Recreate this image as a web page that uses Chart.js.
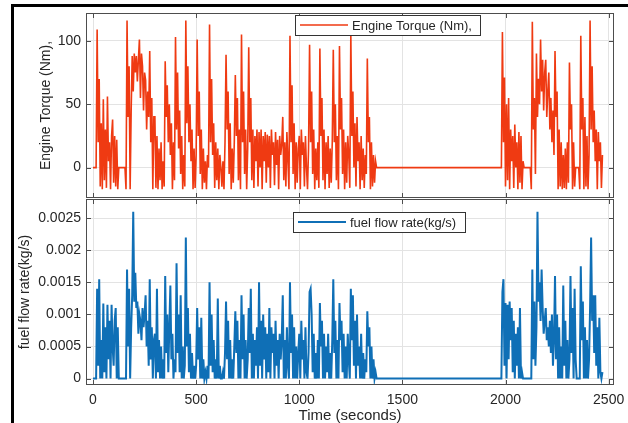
<!DOCTYPE html>
<html>
<head>
<meta charset="utf-8">
<script src="https://cdn.jsdelivr.net/npm/chart.js@4.4.1/dist/chart.umd.min.js"></script>
<style>
  html, body { margin: 0; padding: 0; background: #fff; overflow: hidden; }
  #wrap { position: relative; width: 628px; height: 423px; overflow: hidden; }
  #frame { position: absolute; left: 11px; top: 4px; width: 700px; height: 500px;
           border-left: 3px solid #000; border-top: 3px solid #000; }
  canvas { position: absolute; left: 0; }
  #torqueCanvas { top: 0; }
  #fuelCanvas { top: 190px; }
</style>
</head>
<body>
<div id="wrap">
  <div id="frame"></div>
  <canvas id="torqueCanvas" width="628" height="200"></canvas>
  <canvas id="fuelCanvas" width="628" height="242"></canvas>
</div>
<script>
// logged every 5 s while driving, engine idle (zero) in between
const sampleStep = 5;
const drive1Start = 0;
const drive2Start = 1985;
const idleFrom = 1380;
const idleTo = 1980;
const idleTorque = 0;
const idleFuel = 0;

// Engine torque (Nm), first drive, t = 0..1375 s
const torque1 = [
  0, 0, 0, 0, 109, 20, 70, -15, 35, -17,
  54, -10, 30, -16, 56, 5, 20, -17, 25, 38,
  -12, 25, -15, 22, -17, 0, 0, 0, 0, 0,
  0, 0, -17, 116, 40, 80, -17, 45, 88, 60,
  90, 75, 88, 68, 85, 101, 55, 90, 80, 45,
  75, 69, 30, 60, 40, 92, 20, 55, -17, 40,
  40, -16, 25, -17, 15, -10, 20, -17, 5, -15,
  84, 40, 65, 20, 50, 10, 35, -17, 20, -10,
  103, 30, 75, 15, 45, -5, 25, -17, 10, -15,
  116, 35, 80, 20, 50, 5, 30, -17, 15, -16,
  10, 101, 25, 60, -5, 30, -17, 15, -12, 5,
  -17, 10, 0, 113, 20, 70, 10, 35, -16, 20,
  -10, 15, -17, 10, 0, -15, 5, -17, 20, 89,
  30, 60, -5, 35, -17, 15, -12, 20, 73, 25,
  55, -10, 30, -17, 105, 20, 60, -5, 30, -17,
  15, 95, 20, 55, -10, 30, -16, 25, 5, 30,
  -15, 28, 0, 30, -17, 25, 5, 28, -12, 26,
  0, 25, -16, 30, 10, 20, -14, 28, 2, 22,
  -17, 25, 10, 18, 40, -10, 20, -15, 28, 5,
  -17, 104, 20, 65, -5, 35, -17, 20, -12, 15,
  25, -17, 30, 10, 20, -15, 25, 0, -17, 15,
  97, 20, 60, -5, 30, -17, 15, -10, 20, -16,
  94, 25, 55, -10, 30, -17, 20, -5, 25, -16,
  15, -12, 20, 93, 20, 50, -10, 25, -17, 96,
  30, 55, -5, 30, -17, 20, -12, 25, 10, -16,
  106, 25, 60, 0, 35, -15, 40, 5, 20, -17,
  25, -10, 15, -16, 10, -5, 86, 20, 40, -17,
  20, -15, 10, -12, 5, 0
];

// Engine torque (Nm), second drive, t = 1985..2470 s
const torque2 = [
  107, 20, 71, -15, 50, -10, 55, -17, 30, 5,
  25, -16, 34, 0, 20, -17, 28, -12, 25, -17,
  5, 0, 0, 0, 0, 0, 0, 0, -17, 115,
  30, 55, -5, 90, 40, 70, 50, 101, 60, 85,
  45, 75, 85, 40, 60, 75, 30, 55, 20, 45,
  10, 92, 40, 60, -17, 30, -15, 20, -17, 10,
  -16, 15, -17, 20, -12, 83, 30, 50, -17, 20,
  -15, 0, 0, 0, 0, -17, 104, 30, 55, -17,
  40, -15, 25, -17, 10, 116, 30, 80, 20, 45,
  5, 30, -17, 28, 5, 20, -16, 10
];

// Fuel flow rate (kg/s), first drive
const fuel1 = [
  0, 0, 0, 0, 0.0014, 0.0002, 0.00155, 0, 0.0006, 0,
  0.00117, 0.0001, 0.0008, 0, 0.00115, 0.0003, 0.0009, 0, 0.00115, 0.0005,
  0.0002, 0.0009, 0.0011, 0, 0.0008, 0, 0, 0, 0, 0,
  0, 0, 0, 0.0017, 0.0005, 0.0014, 0, 0.0008, 0.0013, 0.0026,
  0.0012, 0.00165, 0.0011, 0.0012, 0.0007, 0.001, 0.0009, 0.0006, 0.0011, 0.0008,
  0.001, 0.0013, 0.0005, 0.0009, 0.0002, 0.00155, 0.0003, 0.0008, 0, 0.0006,
  0.0007, 0, 0.0014, 0.0001, 0.0006, 0, 0.0005, 0, 0.0003, 0,
  0.0016, 0.0004, 0.001, 0.0001, 0.0008, 0.00145, 0.0003, 0.0007, 0, 0.0003,
  0.0001, 0.0018, 0.0004, 0.001, 0.0001, 0.0013, 0, 0.0005, 0, 0.0002,
  0.0022, 0.0005, 0.0011, 0.0001, 0.0007, 0, 0.0004, 0, 0.0002, 0,
  0.0002, 0.0011, 0.0003, 0.0008, 0, 0.00095, 0, 0.0003, 0, 0.0001,
  0, 0.0002, 0, 0.0015, 0.0002, 0.001, 0.0001, 0.0006, 0, 0.0003,
  0, 0.00125, 0, 0.0002, 0, 0, 0.0001, 0, 0.0004, 0.0012,
  0.0003, 0.0009, 0, 0.0006, 0, 0.0003, 0, 0.0005, 0.00105, 0.0004,
  0.0009, 0, 0.0006, 0, 0.0013, 0.0003, 0.001, 0, 0.0006, 0,
  0.0003, 0.0011, 0.0004, 0.0014, 0, 0.0007, 0, 0.0006, 0.0002, 0.0008,
  0, 0.0015, 0.0002, 0.0009, 0, 0.001, 0.0003, 0.0008, 0, 0.0007,
  0.0001, 0.0011, 0, 0.0008, 0.0004, 0.0007, 0, 0.0009, 0.0002, 0.0006,
  0, 0.0007, 0.0003, 0.0006, 0.0013, 0, 0.0006, 0, 0.0008, 0.0002,
  0, 0.0015, 0.0004, 0.001, 0, 0.0008, 0, 0.0005, 0, 0.0004,
  0.0007, 0, 0.0009, 0.0003, 0.0006, 0, 0.0008, 0.0001, 0, 0.0004,
  0.00135, 0.0014, 0.001, 0.0001, 0.0007, 0, 0.0004, 0, 0.0006, 0,
  0.00118, 0.0005, 0.0009, 0, 0.0007, 0, 0.0005, 0.0001, 0.0007, 0,
  0.0004, 0, 0.0006, 0.00155, 0.0004, 0.0009, 0, 0.0006, 0, 0.00118,
  0.0006, 0.0009, 0.0001, 0.0007, 0, 0.0005, 0, 0.0007, 0.0003, 0,
  0.0014, 0.0006, 0.0013, 0.0002, 0.0009, 0, 0.001, 0.0002, 0.0005, 0,
  0.0007, 0, 0.0004, 0, 0.0003, 0.0001, 0.00105, 0.0005, 0.0008, 0,
  0.0005, 0, 0.0003, 0, 0.0001, 0
];

// Fuel flow rate (kg/s), second drive
const fuel2 = [
  0.00135, 0.00155, 0.0002, 0.00118, 0, 0.00115, 0.0003, 0.0012, 0.0006, 0.0011,
  0.0001, 0.0009, 0, 0.0007, 0.0002, 0.0008, 0, 0.0011, 0, 0.0001,
  0, 0, 0, 0, 0, 0, 0, 0, 0, 0.0017,
  0.0003, 0.0012, 0.0002, 0.0008, 0.0026, 0.0012, 0.0015, 0.0009, 0.0017, 0.0011,
  0.0007, 0.0009, 0.0011, 0.0006, 0.0008, 0.0005, 0.0009, 0.0004, 0.001, 0.0002,
  0.0006, 0.0016, 0.0003, 0.001, 0, 0.0008, 0, 0.0005, 0, 0.00145,
  0.0002, 0.0009, 0, 0.0006, 0, 0.0003, 0.0016, 0.0004, 0.0011, 0,
  0.0014, 0.0003, 0, 0, 0, 0, 0.00175, 0.0006, 0.0012, 0,
  0.0008, 0, 0.0006, 0, 0.0003, 0.0011, 0.0022, 0.0009, 0.0013, 0.0004,
  0.0013, 0.0002, 0.0008, 0, 0.00095, 0.0001, 0, 0.0001
];

const timeTicks = [0, 500, 1000, 1500, 2000, 2500];
const torqueTicks = [0, 50, 100];
const fuelTicks = [0, 0.0005, 0.001, 0.0015, 0.002, 0.0025];

function toPoints(start, vals) {
  return vals.map((v, i) => ({ x: start + i * sampleStep, y: v }));
}

function driveCycle(first, second, idleValue) {
  return [
    ...toPoints(drive1Start, first),
    { x: idleFrom, y: idleValue },
    { x: idleTo, y: idleValue },
    ...toPoints(drive2Start, second)
  ];
}

const FONT = '"Liberation Sans", Arial, Helvetica, sans-serif';
const TEXT = '#262626';
const GRID = '#e3e3e3';

// box round the axes plus short inward ticks on all four sides
const axesFrame = {
  id: 'axesFrame',
  afterDatasetsDraw(chart) {
    const { ctx, chartArea: a, scales } = chart;
    ctx.save();
    ctx.strokeStyle = '#4d4d4d';
    ctx.lineWidth = 1;
    ctx.beginPath();
    scales.x.ticks.forEach(t => {
      const px = Math.round(scales.x.getPixelForValue(t.value)) + 0.5;
      ctx.moveTo(px, a.top); ctx.lineTo(px, a.top + 5);
      ctx.moveTo(px, a.bottom); ctx.lineTo(px, a.bottom - 5);
    });
    scales.y.ticks.forEach(t => {
      const py = Math.round(scales.y.getPixelForValue(t.value)) + 0.5;
      ctx.moveTo(a.left, py); ctx.lineTo(a.left + 5, py);
      ctx.moveTo(a.right, py); ctx.lineTo(a.right - 5, py);
    });
    ctx.stroke();
    ctx.strokeRect(Math.round(a.left) + 0.5, Math.round(a.top) + 0.5,
                   Math.round(a.width) - 1, Math.round(a.height) - 1);
    ctx.restore();
  }
};

// matlab-style boxed legend
const boxLegend = {
  id: 'boxLegend',
  afterDraw(chart, args, opts) {
    const ds = chart.data.datasets[0];
    const ctx = chart.ctx;
    const mid = opts.y + opts.h / 2;
    ctx.save();
    ctx.fillStyle = '#fff';
    ctx.fillRect(opts.x, opts.y, opts.w, opts.h);
    ctx.strokeStyle = '#333';
    ctx.lineWidth = 1;
    ctx.strokeRect(opts.x + 0.5, opts.y + 0.5, opts.w, opts.h);
    ctx.strokeStyle = ds.borderColor;
    ctx.lineWidth = ds.borderWidth;
    ctx.beginPath();
    ctx.moveTo(opts.x + 5, mid);
    ctx.lineTo(opts.x + 53, mid);
    ctx.stroke();
    ctx.fillStyle = TEXT;
    ctx.font = '13px ' + FONT;
    ctx.textBaseline = 'middle';
    ctx.fillText(ds.label, opts.x + 57, mid + 1);
    ctx.restore();
  }
};

function setTicks(list) {
  return scale => { scale.ticks = list.map(v => ({ value: v })); };
}

function makeChart(id, cfg) {
  return new Chart(document.getElementById(id), {
    type: 'line',
    data: {
      datasets: [{
        label: cfg.label,
        data: cfg.points,
        borderColor: cfg.color,
        borderWidth: cfg.width,
        pointRadius: 0,
        tension: 0,
        fill: false
      }]
    },
    options: {
      responsive: false,
      animation: false,
      layout: { padding: cfg.padding },
      plugins: {
        legend: { display: false },
        tooltip: { enabled: false },
        boxLegend: cfg.legendBox
      },
      scales: {
        x: {
          type: 'linear',
          min: -34,
          max: 2526,
          afterBuildTicks: setTicks(timeTicks),
          afterFit: s => { s.height = cfg.xHeight; s.paddingLeft = 0; s.paddingRight = 0; },
          grid: { color: GRID, drawTicks: false },
          border: { display: false },
          ticks: {
            display: cfg.showX,
            padding: 7,
            color: TEXT,
            font: { family: FONT, size: 14 },
            callback: v => String(v)
          },
          title: {
            display: cfg.showX,
            text: 'Time (seconds)',
            color: TEXT,
            font: { family: FONT, size: 15 },
            padding: { top: 0, bottom: 7 }
          }
        },
        y: {
          min: cfg.yMin,
          max: cfg.yMax,
          afterBuildTicks: setTicks(cfg.yTicks),
          // label overflow must not shrink the plot area
          afterFit: s => { s.width = 86; s.paddingTop = 0; s.paddingBottom = 0; },
          grid: { color: GRID, drawTicks: false },
          border: { display: false },
          ticks: {
            padding: 5,
            color: TEXT,
            font: { family: FONT, size: 14 },
            callback: v => String(v)
          },
          title: {
            display: true,
            text: cfg.yTitle,
            color: TEXT,
            font: { family: FONT, size: 14 },
            padding: { top: cfg.yTitlePad, bottom: 0 }
          }
        }
      }
    },
    plugins: [axesFrame, boxLegend]
  });
}

makeChart('torqueCanvas', {
  label: 'Engine Torque (Nm),',
  points: driveCycle(torque1, torque2, idleTorque),
  color: '#ef3a12',
  width: 1.6,
  padding: { top: 13, right: 14, bottom: 2, left: 0 },
  legendBox: { x: 295, y: 15, w: 185, h: 20 },
  xHeight: 0,
  showX: false,
  yMin: -24,
  yMax: 122,
  yTicks: torqueTicks,
  yTitle: 'Engine Torque (Nm),',
  yTitlePad: 38
});

makeChart('fuelCanvas', {
  label: 'fuel flow rate(kg/s)',
  points: driveCycle(fuel1, fuel2, idleFuel),
  color: '#0f6fb6',
  width: 2,
  padding: { top: 9, right: 14, bottom: 0, left: 0 },
  legendBox: { x: 293, y: 22, w: 172, h: 20 },
  xHeight: 47,
  showX: true,
  yMin: -0.0001,
  yMax: 0.0028,
  yTicks: fuelTicks,
  yTitle: 'fuel flow rate(kg/s)',
  yTitlePad: 17
});
</script>
</body>
</html>
